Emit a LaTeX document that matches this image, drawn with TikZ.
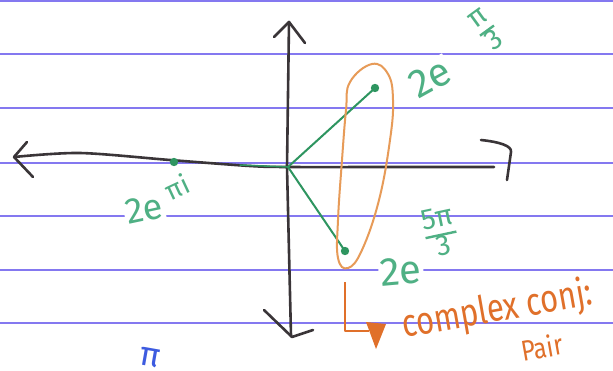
\documentclass[tikz,border=0pt]{standalone}
\usepackage{graphicx}
\usepackage{fontspec}
\setmainfont{Fira Sans}
\definecolor{rule}{HTML}{8478F0}
\definecolor{ink}{HTML}{3A3538}
\definecolor{gline}{HTML}{2E9560}
\definecolor{gtext}{HTML}{4FB084}
\definecolor{oloop}{HTML}{E79B58}
\definecolor{oarrow}{HTML}{E0702A}
\definecolor{bluepen}{HTML}{3D5BE0}
\newcommand{\hfrac}[2]{{\setlength{\arrayrulewidth}{2.4pt}\renewcommand{\arraystretch}{0.8}\begin{tabular}{@{}c@{}}#1\\\hline #2\end{tabular}}}
\tikzset{
  ruled/.style={rule,line width=1.6pt},
  axisline/.style={ink,line width=2.6pt,line cap=round,line join=round},
  vec/.style={gline,line width=2pt,line cap=round},
  dotpt/.style={gline,fill=gline},
  lbl/.style={gtext,fill=white,inner sep=2pt,font=\fontsize{40}{40}\selectfont},
  suplbl/.style={gtext,inner sep=1pt,font=\fontsize{29}{29}\selectfont},
  olabel/.style={oarrow,font=\fontsize{31}{31}\selectfont,inner sep=0pt}
}
\begin{document}
\begin{tikzpicture}[x=1pt,y=-1pt]
\useasboundingbox (0,0) rectangle (613,370);
\fill[white] (0,0) rectangle (613,370);
% ruled lines
\foreach \yy in {1,54,108,163,216,270,323}{
  \draw[ruled] (0,\yy) -- (613,\yy);
}
% points
\coordinate (O) at (288,167);
\coordinate (P1) at (375,88);
\coordinate (P2) at (345,251);
\coordinate (P3) at (174,162);
% labels (white backgrounds break the ruled lines)
\node[lbl,rotate=29] (L1) at (430,78) {2e};
\node[suplbl,rotate=36] (S1) at (488,32) {\hfrac{π}{3}};
\node[lbl,rotate=5] (L2) at (401,271) {2e};
\node[suplbl,rotate=12] (S2) at (441,235) {\hfrac{5π}{3}};
\node[lbl,rotate=12,font=\fontsize{36}{36}\selectfont] (L3) at (144,209) {2e};
\node[suplbl,rotate=25,font=\fontsize{27}{27}\selectfont] (S3) at (177,187) {πi};
% axes
\draw[axisline] plot[smooth] coordinates {(14,157) (80,153) (170,160) (250,166) (288,167) (400,167) (494,167)};
\draw[axisline] (27,142) -- (14,157) -- (33,177);
\draw[axisline] (481,140) .. controls (500,142) and (512,146) .. (511,152) -- (507,180);
\draw[axisline] (289,22) -- (287,167) -- (291,336);
\draw[axisline] (274,37) -- (289,22) -- (305,43);
\draw[axisline] (264,310) -- (292,337) -- (313,330);
% green vectors
\draw[vec] (O) -- (P1);
\draw[vec] (O) -- (P2);
\draw[vec,line width=1.5pt] (O) -- (240,165);
\fill[dotpt] (P1) circle (4.2);
\fill[dotpt] (P2) circle (4.2);
\fill[dotpt] (P3) circle (4.2);
% orange loop
\draw[oloop,line width=2pt] plot[smooth cycle,tension=0.7] coordinates {(372,64) (388,74) (393,100) (390,140) (379,200) (362,250) (348,268) (338,258) (338,220) (342,160) (346,110) (350,82)};
% orange L arrow
\coordinate (A0) at (345,282);
\coordinate (A1) at (345,331);
\coordinate (A2) at (369,331);
\draw[oarrow,line width=2.4pt,line join=round] (A0) -- (A1) -- (A2);
\fill[oarrow] (366,322) -- (386,324) -- (376,349) -- cycle;
\node[olabel,rotate=10,anchor=base west] (T1) at (404,338) {\scalebox{1}[1.25]{complex conj:}};
\node[olabel,rotate=10,font=\fontsize{24}{24}\selectfont] (T2) at (542,347) {\scalebox{1}[1.2]{Pair}};
% blue pen mark
\node[bluepen,inner sep=0pt,rotate=-10,font=\fontsize{34}{34}\selectfont] (B1) at (150,358) {π};
\end{tikzpicture}
\end{document}
